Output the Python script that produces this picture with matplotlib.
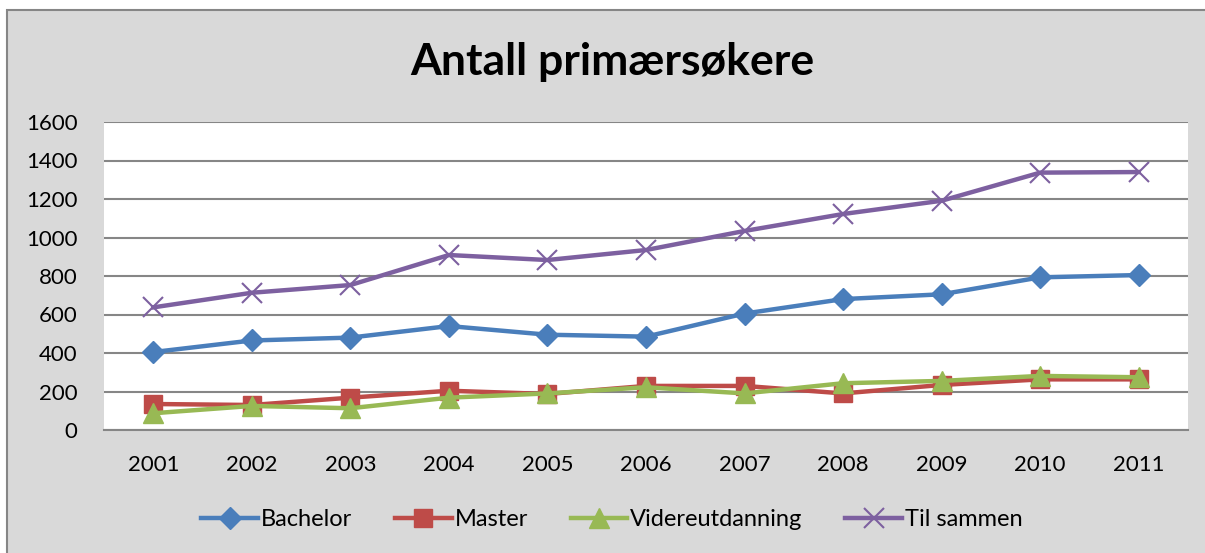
import numpy as np
import matplotlib.pyplot as plt
from matplotlib.patches import Rectangle

years = ['2001', '2002', '2003', '2004', '2005', '2006', '2007', '2008', '2009', '2010', '2011']
bachelor = [405, 465, 480, 540, 495, 485, 605, 680, 705, 793, 805]
master = [135, 130, 168, 204, 187, 229, 229, 190, 234, 263, 263]
videre = [87, 125, 113, 168, 190, 222, 190, 243, 255, 281, 274]
til_sammen = [637, 713, 753, 909, 883, 935, 1034, 1122, 1191, 1337, 1340]

plt.rcParams['font.family'] = ['Lato', 'DejaVu Sans']

W, H = 1205, 553
fig = plt.figure(figsize=(W / 100, H / 100), dpi=100)
fig.patch.set_facecolor('white')

# grey chart area with border
fig.patches.append(Rectangle((7 / W, -0.1), 1.2, 1 - 10 / H + 0.1, transform=fig.transFigure,
                             facecolor='#d9d9d9', edgecolor='#868686', lw=1.5, zorder=-5))

ax = fig.add_axes([104 / W, 1 - 430 / H, (1188 - 104) / W, (430 - 122) / H])
ax.set_facecolor('white')

x = np.arange(len(years))
ax.plot(x, bachelor, color='#4a7ebb', lw=3.2, marker='D', ms=11, label='Bachelor', zorder=3)
ax.plot(x, master, color='#be4b48', lw=3.2, marker='s', ms=13, label='Master', zorder=3)
ax.plot(x, videre, color='#98b954', lw=3.2, marker='^', ms=14, label='Videreutdanning', zorder=4)
ax.plot(x, til_sammen, color='#7d60a0', lw=3.2, marker='x', ms=14, mew=1.5, label='Til sammen', zorder=3)

ax.set_xlim(-0.5, len(years) - 0.5)
ax.set_ylim(0, 1600)
ax.set_yticks(range(0, 1601, 200))
ax.set_xticks(x)
ax.set_xticklabels(years)
ax.yaxis.grid(True, color='#868686', lw=1.5)
ax.set_axisbelow(True)
for s in ['left', 'right', 'top']:
    ax.spines[s].set_visible(False)
ax.spines['bottom'].set_color('#868686')
ax.spines['bottom'].set_linewidth(1.5)
ax.tick_params(axis='both', length=0, labelsize=16)
ax.tick_params(axis='y', pad=19)
ax.tick_params(axis='x', pad=18)

fig.text(612 / W, 1 - 62 / H, 'Antall primærsøkere', ha='center', va='center',
         fontsize=32, fontweight='bold')

fig.legend(loc='center', bbox_to_anchor=(612 / W, 1 - 520 / H), ncol=4, frameon=False,
           fontsize=17, handlelength=2.4, columnspacing=1.8, handletextpad=0.13)

fig.savefig('out.png', dpi=100)
